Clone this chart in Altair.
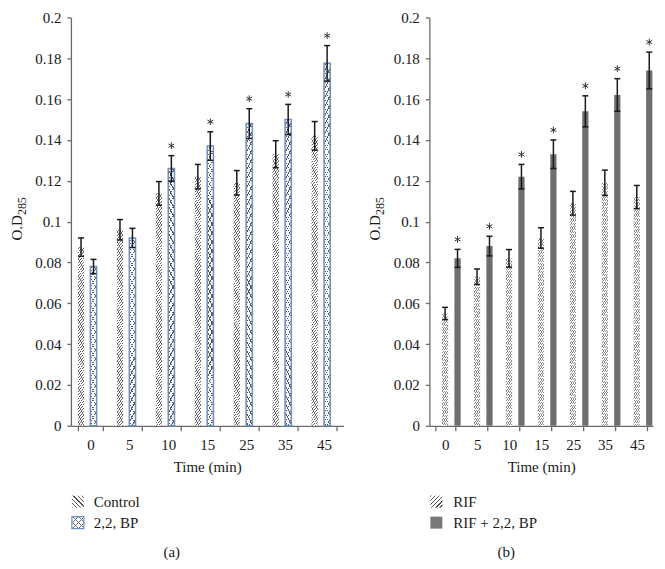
import altair as alt

# ---------------- data ----------------
times = ["0", "5", "10", "15", "25", "35", "45"]
y_ticks = [0, 0.02, 0.04, 0.06, 0.08, 0.1, 0.12, 0.14, 0.16, 0.18, 0.2]

# panel (a)
a_names = ["Control", "2,2, BP"]
control = [0.0875, 0.096, 0.1138, 0.122, 0.119, 0.133, 0.142]
control_err = [0.0045, 0.005, 0.0058, 0.006, 0.006, 0.0066, 0.007]
control_star = [False] * 7
bp = [0.078, 0.092, 0.126, 0.137, 0.148, 0.150, 0.1775]
bp_err = [0.0035, 0.0047, 0.0063, 0.007, 0.0073, 0.0074, 0.0087]
bp_star = [False, False, True, True, True, True, True]

# panel (b)
b_names = ["RIF", "RIF + 2,2, BP"]
rif = [0.055, 0.073, 0.082, 0.092, 0.109, 0.119, 0.112]
rif_err = [0.003, 0.0038, 0.0043, 0.005, 0.0058, 0.0062, 0.0057]
rif_star = [False] * 7
rifbp = [0.082, 0.088, 0.122, 0.133, 0.154, 0.162, 0.174]
rifbp_err = [0.0044, 0.0048, 0.006, 0.007, 0.0076, 0.008, 0.009]
rifbp_star = [True] * 7

FONT = "Liberation Serif"
PLOT_H = 409
YMAX = 0.2
SEG = 0.02          # hatch tiles follow the y tick spacing
AXIS_COL = "#6b6b6b"
TXT_COL = "#1a1a1a"
BLUE = "#6d8fc4"
CLEAR = "rgba(255,255,255,0)"
STAR_PATH = "M0,-1L0,1M-0.87,-0.5L0.87,0.5M-0.87,0.5L0.87,-0.5"


def hatch(w, h, direction, period, frac, fg, bg, phase=0.0):
    """Linear gradient with hard stops -> 45 degree stripes on a w x h box."""
    L = w + h
    pieces = []
    pos = (-phase) % period - period
    while pos < L:
        a, b, c = pos, pos + frac * period, pos + period
        if min(b, L) > max(a, 0):
            pieces.append((max(a, 0), min(b, L), fg))
        if min(c, L) > max(b, 0):
            pieces.append((max(b, 0), min(c, L), bg))
        pos = c
    stops = []
    for s, e, col in pieces:
        stops.append({"offset": round(s / L, 6), "color": col})
        stops.append({"offset": round(e / L, 6), "color": col})
    d2 = w * w + h * h
    dx = w * L / d2
    dy = h * L / d2
    if direction == "/":
        x1, y1, x2, y2 = 0, 0, dx, dy
    else:
        x1, y1, x2, y2 = 0, 1, dx, 1 - dy
    return {"gradient": "linear", "x1": x1, "y1": y1, "x2": x2, "y2": y2, "stops": stops}


def hspec(direction, period, frac, fg, bg):
    return (direction, period, frac, fg, bg)


# style: (layer1 hatch or colour, layer2 hatch or None, outline colour)
STYLES = {
    "Control": (hspec("\\", 3.4, 0.38, "#626262", "#ffffff"), None, CLEAR),
    "2,2, BP": (hspec("/", 9, 0.14, "#555555", "#ffffff"),
                hspec("\\", 9, 0.14, "#555555", CLEAR), BLUE),
    "RIF": (hspec("/", 3.2, 0.42, "#8a8a8a", "#ffffff"), None, CLEAR),
    "RIF + 2,2, BP": ("#6e6e6e", None, CLEAR),
}


def make_fill(spec, w, h, ytop):
    if spec is None:
        return CLEAR
    if isinstance(spec, str):
        return spec
    direction, period, frac, fg, bg = spec
    phase = ytop if direction == "/" else -h - ytop
    return hatch(w, h, direction, period, frac, fg, bg, phase)


def panel(names, series, step, pad_inner, label_x, tag, tag_x, swatch_styles):
    width = step * len(times)
    bar_w = step * (1 - pad_inner) / 2
    rows, segs = [], []
    for name, (vals, errs, stars) in zip(names, series):
        s1, s2, sc = STYLES[name]
        for t, v, e, s in zip(times, vals, errs, stars):
            rows.append({"time": t, "series": name, "value": v, "lo": v - e,
                         "hi": v + e, "star": s, "sc": sc})
            # split hatched bars into tiles so each gradient stays short
            if isinstance(s1, str):
                bounds = [(0.0, v)]
            else:
                bounds = []
                k = 0
                while k * SEG < v - 1e-9:
                    bounds.append((k * SEG, min(v, (k + 1) * SEG)))
                    k += 1
            for y0, y1 in bounds:
                hpx = (y1 - y0) / YMAX * PLOT_H
                ytop = (YMAX - y1) / YMAX * PLOT_H
                segs.append({"time": t, "series": name, "y0": y0, "y1": y1,
                             "g1": make_fill(s1, bar_w, hpx, ytop),
                             "g2": make_fill(s2, bar_w, hpx, ytop)})
    base = alt.Chart(alt.Data(values=rows))
    sbase = alt.Chart(alt.Data(values=segs))
    x = alt.X("time:N", sort=times,
              scale=alt.Scale(paddingInner=pad_inner, paddingOuter=pad_inner / 2),
              axis=alt.Axis(title="Time (min)", labelAngle=0, tickBand="extent",
                            tickSize=5, labelPadding=7, titlePadding=7,
                            titleFontSize=15, titleFontWeight="normal",
                            titleColor=TXT_COL, labelFontSize=15,
                            labelColor=TXT_COL, domainColor=AXIS_COL,
                            tickColor=AXIS_COL, domainWidth=1.3, tickWidth=1.3))
    xo = alt.XOffset("series:N", sort=names,
                     scale=alt.Scale(paddingInner=0, paddingOuter=0))
    yscale = alt.Scale(domain=[0, YMAX], nice=False)
    y = alt.Y("value:Q", scale=yscale, stack=None,
              axis=alt.Axis(title=None, values=y_ticks, format=".2~f", tickSize=4,
                            labelPadding=6, labelFontSize=15, labelColor=TXT_COL,
                            domainColor=AXIS_COL, tickColor=AXIS_COL,
                            domainWidth=1.3, tickWidth=1.3, grid=False))
    ys = alt.Y("y0:Q", scale=yscale, stack=None)
    seg1 = sbase.mark_bar(strokeWidth=0).encode(
        x=x, xOffset=xo, y=ys, y2="y1:Q", fill=alt.Fill("g1:N", scale=None))
    seg2 = sbase.mark_bar(strokeWidth=0).encode(
        x=x, xOffset=xo, y=ys, y2="y1:Q", fill=alt.Fill("g2:N", scale=None))
    outline = base.mark_bar(strokeWidth=1.5, fill=CLEAR).encode(
        x=x, xOffset=xo, y=y, stroke=alt.Stroke("sc:N", scale=None))
    err = base.mark_rule(strokeWidth=1.5, color=TXT_COL).encode(
        x=x, xOffset=xo, y=alt.Y("lo:Q", scale=yscale), y2="hi:Q")
    cap_hi = base.mark_tick(orient="horizontal", size=6, thickness=1.5,
                            color=TXT_COL, opacity=1).encode(
        x=x, xOffset=xo, y=alt.Y("hi:Q", scale=yscale))
    cap_lo = base.mark_tick(orient="horizontal", size=6, thickness=1.5,
                            color=TXT_COL, opacity=1).encode(
        x=x, xOffset=xo, y=alt.Y("lo:Q", scale=yscale))
    stars = base.transform_filter("datum.star").mark_point(
        shape=STAR_PATH, size=46, filled=False, stroke="#333333", strokeWidth=1.0,
        opacity=1, yOffset=-10).encode(
        x=x, xOffset=xo, y=alt.Y("hi:Q", scale=yscale))

    # y-axis title O.D with subscript 285
    yt1 = alt.Chart(alt.Data(values=[{"t": "O.D"}])).mark_text(
        angle=270, align="right", baseline="alphabetic", fontSize=15,
        color=TXT_COL).encode(text="t:N", x=alt.value(-49), y=alt.value(198))
    yt2 = alt.Chart(alt.Data(values=[{"t": "285"}])).mark_text(
        angle=270, align="left", baseline="alphabetic", fontSize=12,
        color=TXT_COL).encode(text="t:N", x=alt.value(-45), y=alt.value(198))

    layers = [seg1, seg2, outline, err, cap_hi, cap_lo, stars, yt1, yt2]
    # legend
    for i, (name, sw) in enumerate(zip(names, swatch_styles)):
        g1, g2, sc = sw(12, 12)
        top = 479 + 21 * i
        d = alt.Data(values=[{"label": name}])
        layers.append(alt.Chart(d).mark_rect(strokeWidth=0).encode(
            x=alt.value(1), x2=alt.value(13), y=alt.value(top), y2=alt.value(top + 12),
            fill=alt.value(g1)))
        layers.append(alt.Chart(d).mark_rect(strokeWidth=1.2).encode(
            x=alt.value(1), x2=alt.value(13), y=alt.value(top), y2=alt.value(top + 12),
            fill=alt.value(g2), stroke=alt.value(sc)))
        layers.append(alt.Chart(d).mark_text(
            align="left", baseline="alphabetic", fontSize=15, color=TXT_COL).encode(
            text="label:N", x=alt.value(label_x), y=alt.value(top + 11)))
    layers.append(alt.Chart(alt.Data(values=[{"t": tag}])).mark_text(
        align="center", baseline="alphabetic", fontSize=15, color=TXT_COL).encode(
        text="t:N", x=alt.value(tag_x), y=alt.value(540)))
    return alt.layer(*layers).properties(width=width, height=PLOT_H)


def sw_control(w, h):
    return hatch(w, h, "\\", 4.2, 0.3, "#555555", CLEAR), CLEAR, CLEAR


def sw_bp(w, h):
    return (hatch(w, h, "/", 6, 0.2, "#666666", "#ffffff"),
            hatch(w, h, "\\", 6, 0.2, "#666666", CLEAR), BLUE)


def sw_rif(w, h):
    return hatch(w, h, "/", 4.2, 0.3, "#555555", CLEAR), CLEAR, CLEAR


def sw_rifbp(w, h):
    return "#787878", CLEAR, CLEAR


left = panel(a_names,
             [(control, control_err, control_star), (bp, bp_err, bp_star)],
             39, 0.36, 23, "(a)", 101, [sw_control, sw_bp])
right = panel(b_names,
              [(rif, rif_err, rif_star), (rifbp, rifbp_err, rifbp_star)],
              32, 0.4, 24, "(b)", 77, [sw_rif, sw_rifbp])

chart = alt.hconcat(left, right, spacing=25).properties(
    padding={"left": 2, "top": 2, "right": 2, "bottom": 2}
).configure(font=FONT).configure_view(stroke=None)

chart.save("out.html", embed_options={"renderer": "svg", "actions": False})
